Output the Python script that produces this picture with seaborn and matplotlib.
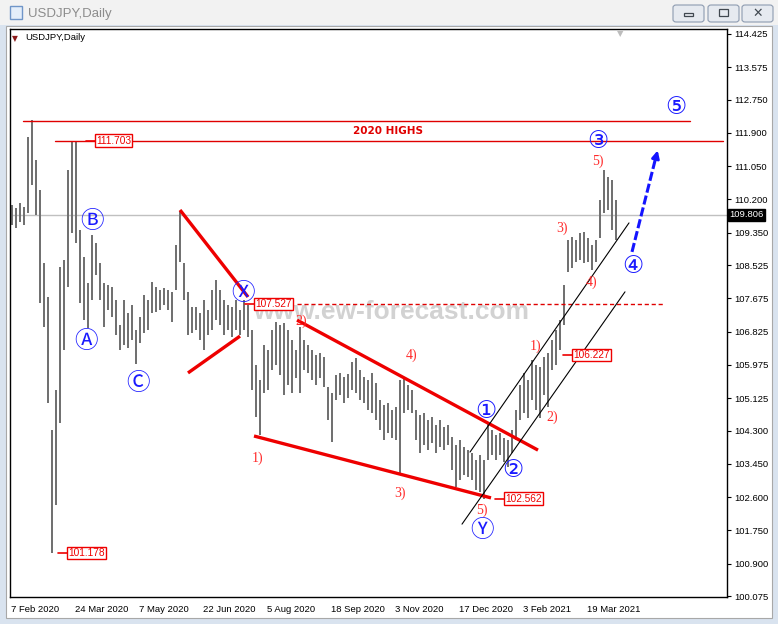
import numpy as np
import pandas as pd
import seaborn as sns
import matplotlib.pyplot as plt
from matplotlib.patches import Rectangle, FancyBboxPatch

# USDJPY daily bars (each bar = 2 trading days)
highs = [
    110.06, 109.98, 110.11, 110.01, 111.79, 112.23, 111.21, 110.44, 108.58, 107.71,
    104.31, 105.33, 108.47, 108.65, 110.95, 111.70, 111.67, 109.42, 108.73, 108.07,
    109.29, 109.09, 108.58, 108.07, 108.02, 107.96, 107.63, 106.99, 107.63, 107.30,
    107.50, 106.87, 107.20, 107.76, 107.63, 108.09, 107.96, 107.89, 107.94, 107.89,
    107.84, 109.04, 109.90, 108.58, 107.84, 107.45, 107.45, 107.30, 107.63, 107.38,
    107.89, 108.14, 107.89, 107.63, 107.50, 107.45, 107.63, 107.38, 107.63, 107.50,
    106.87, 105.97, 105.59, 106.48, 106.36, 106.87, 107.07, 106.99, 107.05, 106.87,
    106.61, 106.36, 106.94, 106.61, 106.48, 106.36, 106.23, 106.28, 106.18, 105.41,
    105.26, 105.72, 105.77, 105.67, 105.74, 106.05, 106.15, 105.85, 105.67, 105.59,
    105.77, 105.51, 105.08, 104.95, 105.00, 104.82, 104.90, 105.59, 105.67, 105.46,
    105.33, 104.82, 104.70, 104.75, 104.57, 104.64, 104.44, 104.57, 104.39, 104.44,
    104.13, 103.93, 104.06, 103.88, 103.80, 103.73, 103.55, 103.67, 103.55, 104.49,
    104.31, 104.19, 104.24, 104.11, 104.06, 104.31, 104.82, 105.46, 105.77, 105.59,
    106.10, 105.97, 105.92, 106.18, 106.28, 106.61, 106.87, 107.12, 108.02, 109.16,
    109.24, 109.16, 109.34, 109.37, 109.22, 109.04, 109.16, 110.19, 110.95, 110.77,
    110.70, 110.19,
]
lows = [
    109.55, 109.47, 109.62, 109.55, 109.85, 110.57, 109.80, 107.56, 106.94, 105.00,
    101.178, 102.40, 104.49, 106.36, 107.96, 109.34, 109.09, 107.56, 107.12, 106.92,
    107.63, 108.27, 107.63, 106.94, 107.38, 107.20, 106.74, 106.36, 106.48, 106.41,
    106.61, 106.00, 106.53, 106.79, 106.87, 107.30, 107.33, 107.38, 107.50, 107.38,
    107.07, 107.89, 108.60, 107.63, 106.74, 106.79, 106.87, 106.61, 106.36, 106.74,
    106.87, 107.12, 106.99, 106.74, 106.87, 106.69, 106.87, 106.74, 106.87, 106.69,
    105.33, 104.64, 104.19, 105.26, 105.33, 105.85, 105.97, 105.72, 105.21, 105.46,
    105.26, 105.64, 105.26, 105.85, 105.77, 105.59, 105.46, 105.64, 105.41, 104.57,
    104.01, 105.08, 105.21, 105.00, 105.13, 105.33, 105.26, 105.08, 105.00, 104.82,
    104.75, 104.57, 104.31, 104.06, 104.24, 104.11, 104.06, 103.21, 104.75, 104.82,
    104.75, 104.06, 103.73, 103.93, 103.80, 103.98, 103.73, 103.88, 103.80, 103.93,
    103.29, 102.86, 103.04, 103.16, 103.11, 103.04, 102.78, 102.73, 102.562, 103.55,
    103.67, 103.55, 103.67, 103.50, 103.37, 103.73, 104.06, 104.57, 104.75, 104.62,
    105.08, 104.82, 104.62, 105.21, 104.90, 105.85, 105.97, 106.36, 106.99, 108.35,
    108.45, 108.60, 108.65, 108.58, 108.60, 108.40, 108.60, 109.22, 109.85, 109.93,
    109.42, 109.16,
]
last_price = 109.806

price_ticks = [114.425, 113.575, 112.750, 111.900, 111.050, 110.200, 109.350, 108.525, 107.675,
               106.825, 105.975, 105.125, 104.300, 103.450, 102.600, 101.750, 100.900, 100.075]
date_labels = ['7 Feb 2020', '24 Mar 2020', '7 May 2020', '22 Jun 2020', '5 Aug 2020',
               '18 Sep 2020', '3 Nov 2020', '17 Dec 2020', '3 Feb 2021', '19 Mar 2021']

# wave labels: (bar, price, text)
circle_labels = [(20, 109.65, 'Ⓑ'), (18.5, 106.59, 'Ⓐ'), (31.5, 105.51, 'Ⓒ'), (57.8, 107.82, 'Ⓧ'),
                 (117.5, 101.76, 'Ⓨ'), (118.5, 104.80, '①'), (125.25, 103.29, '②'),
                 (146.5, 111.68, '③'), (155.25, 108.50, '④'), (166, 112.56, '⑤')]
sub_labels = [(61.5, 103.60, '1)'), (72.3, 107.08, '2)'), (97, 102.70, '3)'), (100, 106.23, '4)'),
              (117.5, 102.27, '5)'), (131, 106.46, '1)'), (135, 104.64, '2)'), (137.5, 109.47, '3)'),
              (145, 108.09, '4)'), (146.5, 111.17, '5)')]
# price markers: (bar where the label box starts, price)
price_marks = [(21, 111.703), (60.75, 107.527), (140.25, 106.227), (123.25, 102.562), (14, 101.178)]

red_lines = [((42, 109.93), (59, 107.71)), ((44, 105.77), (57, 106.71)),
             ((71.25, 107.12), (131.5, 103.80)), ((60.5, 104.16), (119.75, 102.58))]
channel = [((114.5, 103.75), (154.25, 109.60)), ((112.5, 101.91), (153.25, 107.84))]

df = pd.DataFrame({'bar': np.arange(len(highs)), 'high': highs, 'low': lows})

sns.set_style('white')
plt.rcParams['font.family'] = ['Liberation Sans', 'DejaVu Sans']

W, H = 778, 624
fig = plt.figure(figsize=(W / 100, H / 100), dpi=100, facecolor='#d9e3ef')


def frect(x0, y0, x1, y1, z=-10, **kw):
    fig.patches.append(Rectangle((x0 / W, 1 - y1 / H), (x1 - x0) / W, (y1 - y0) / H,
                                 transform=fig.transFigure, zorder=z, **kw))


# window chrome
frect(0, 0, W, 25, facecolor='#f2f2f2', edgecolor='none')
frect(6, 26, 772, 618, facecolor='white', edgecolor='#a8a8a8', lw=0.8)
frect(10, 6, 22, 19, facecolor='#e4eefa', edgecolor='#6f95c8', lw=1)
fig.text(28 / W, 1 - 14 / H, 'USDJPY,Daily', color='#8c8c8c', fontsize=9.5, va='center')
for bx0, bx1 in [(673, 704), (708, 739), (742, 773)]:
    fig.patches.append(FancyBboxPatch((bx0 / W, 1 - 22 / H), (bx1 - bx0) / W, 17 / H,
                                      boxstyle='round,pad=0,rounding_size=0.004',
                                      transform=fig.transFigure, facecolor='#e6eaf0',
                                      edgecolor='#8d9bb0', lw=0.8, zorder=-9))
frect(684, 13, 693, 16, z=-8, facecolor='#e6eaf0', edgecolor='#404850', lw=0.9)
frect(719, 9, 728, 16, z=-8, facecolor='#e6eaf0', edgecolor='#404850', lw=0.9)
fig.text(757.5 / W, 1 - 13 / H, '✕', color='#404850', fontsize=9, ha='center', va='center',
         family='DejaVu Sans')

ax = fig.add_axes([10 / W, 1 - 597 / H, 717 / W, 568 / H])
ax.set_facecolor('white')

# watermark under the bars
ax.text(94.75, 107.33, 'www.ew-forecast.com', color='#d2d2d2', fontsize=19, fontweight='bold',
        ha='center', va='center', zorder=1)

ax.axhline(last_price, color='#c0c0c0', lw=1, zorder=1.5)
ax.vlines(df['bar'], df['low'], df['high'], color='#6e6e6e', lw=1.4, zorder=2)

# horizontal levels
ax.plot([2.75, 169.5], [112.20, 112.20], color='#e00000', lw=1, zorder=3)
ax.plot([10.75, 177.75], [111.703, 111.703], color='#e00000', lw=1, zorder=3)
ax.plot([71.25, 163], [107.527, 107.527], color='#e00000', lw=1, ls=(0, (3, 2)), zorder=3)
ax.text(94, 111.95, '2020 HIGHS', color='#e00000', fontsize=7.5, fontweight='bold',
        family='DejaVu Sans', ha='center', va='center', zorder=4)

for (x0, y0), (x1, y1) in red_lines:
    ax.plot([x0, x1], [y0, y1], color='#ee0000', lw=2.4, zorder=4, solid_capstyle='butt')
for (x0, y0), (x1, y1) in channel:
    ax.plot([x0, x1], [y0, y1], color='black', lw=0.8, zorder=4)

# blue projection arrow
ax.plot([155, 161.0], [108.86, 111.29], color='#1414ff', lw=2.2, ls=(0, (3, 1)), zorder=5)
ax.annotate('', xy=(161.6, 111.52), xytext=(160.9, 111.24),
            arrowprops=dict(arrowstyle='-|>', color='#1414ff', lw=2, mutation_scale=11), zorder=5)

for x, y, t in circle_labels:
    ax.text(x, y, t, color='#1a1aff', fontsize=17, ha='center', va='center',
            family=['DejaVu Sans', 'Noto Sans CJK JP'], zorder=6)
for x, y, t in sub_labels:
    ax.text(x, y, t, color='#ff2a2a', fontsize=10, ha='center', va='center',
            family='Liberation Serif', zorder=6)
for x, p in price_marks:
    ax.plot([x - 2.6, x - 0.3], [p, p], color='#ee0000', lw=1.2, zorder=6)
    ax.text(x, p, f'{p:.3f}', color='#ee0000', fontsize=7.3, ha='left', va='center', zorder=7,
            bbox=dict(boxstyle='square,pad=0.12', fc='white', ec='#ee0000', lw=1))

ax.text(0.003, 0.984, '▼', transform=ax.transAxes, color='#8b1a1a', fontsize=5.5,
        family='DejaVu Sans', ha='left', va='center')
ax.text(0.0215, 0.985, 'USDJPY,Daily', transform=ax.transAxes, color='black', fontsize=6.8,
        ha='left', va='center')
ax.text(152, 1.0, '▼', transform=ax.get_xaxis_transform(), color='#bdbdbd', fontsize=6,
        family='DejaVu Sans', ha='center', va='top')

ax.set_xlim(-0.5, 178.75)
ax.set_ylim(100.05, 114.55)
ax.yaxis.tick_right()
ax.set_yticks(price_ticks)
ax.set_yticklabels([f'{p:.3f}' for p in price_ticks])
ax.set_xticks([16 * i - 0.25 for i in range(len(date_labels))])
ax.set_xticklabels(date_labels, ha='left')
ax.tick_params(axis='both', direction='out', length=3, width=0.8, color='black',
               labelsize=6.8, labelcolor='black', pad=2)
ax.tick_params(axis='x', pad=2.5)
for s in ax.spines.values():
    s.set_color('black')
    s.set_linewidth(1)
    s.set_visible(True)
ax.grid(False)

ax.text(1.003, last_price, f'{last_price:.3f}', transform=ax.get_yaxis_transform(),
        color='white', fontsize=6.8, ha='left', va='center', zorder=8, clip_on=False,
        bbox=dict(boxstyle='square,pad=0.15', fc='black', ec='black'))

fig.savefig('out.png', dpi=100, facecolor=fig.get_facecolor())
